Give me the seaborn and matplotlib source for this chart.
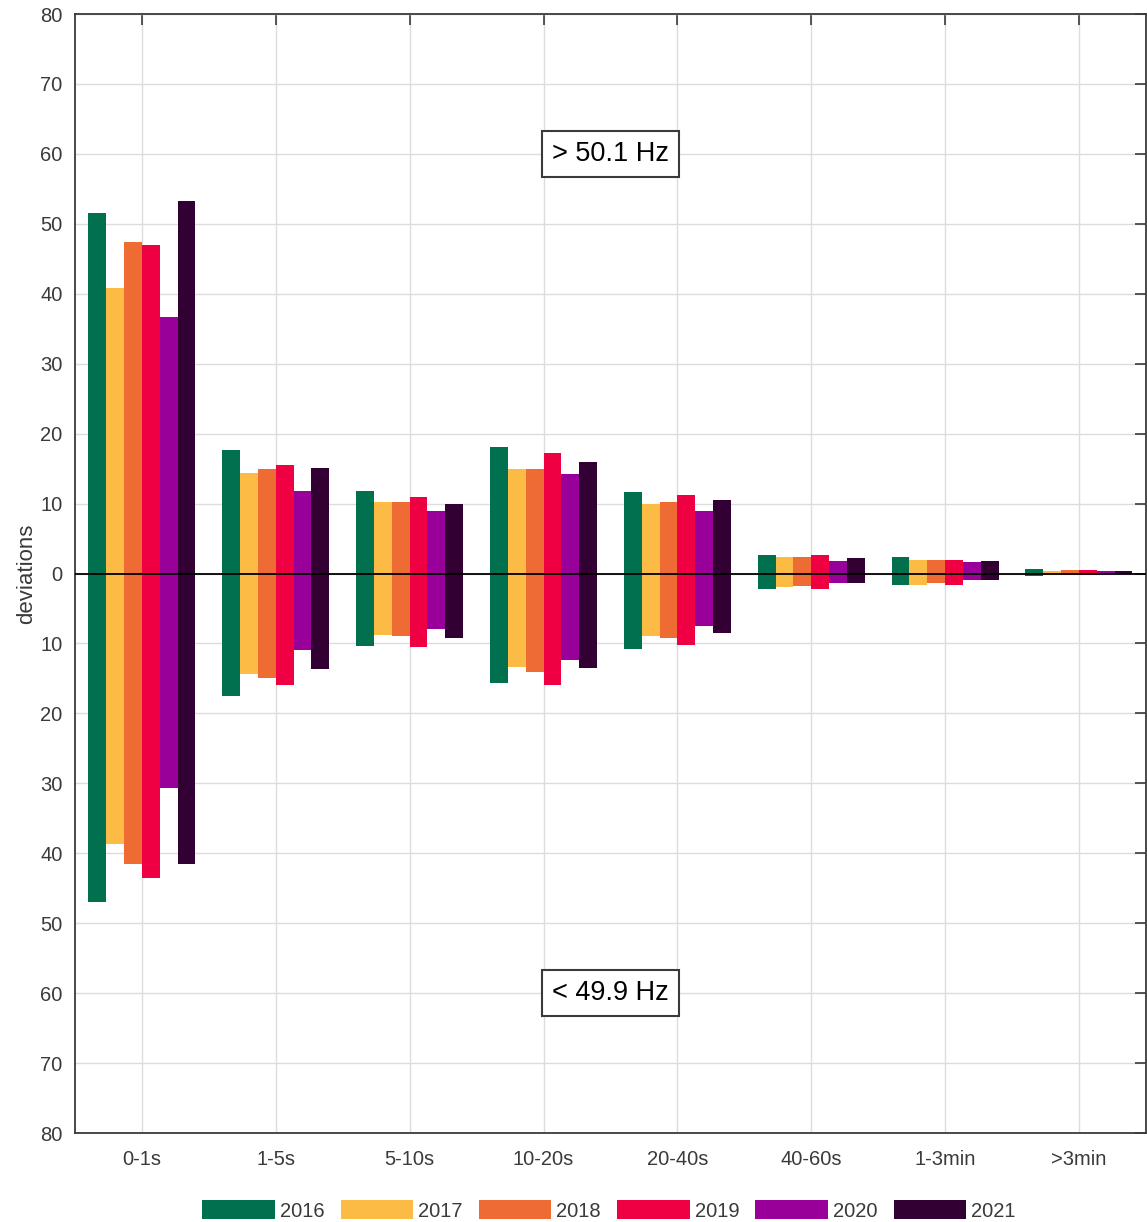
import matplotlib
matplotlib.use("Agg")
import matplotlib.pyplot as plt
import numpy as np
import pandas as pd
import seaborn as sns

# Intervalos de duracao e anos
categories = ['0-1s', '1-5s', '5-10s', '10-20s', '20-40s', '40-60s', '1-3min', '>3min']
years = ['2016', '2017', '2018', '2019', '2020', '2021']
colors = ['#00704F', '#FBBB45', '#EE6B34', '#EE0043', '#990099', '#330033']

# Desvios acima de 50.1 Hz (um valor por categoria)
above_2016 = [51.5, 17.7, 11.8, 18.1, 11.7, 2.7, 2.4, 0.6]
above_2017 = [40.8, 14.4, 10.3, 15.0, 9.9, 2.4, 1.9, 0.4]
above_2018 = [47.4, 14.9, 10.3, 15.0, 10.2, 2.4, 1.9, 0.5]
above_2019 = [47.0, 15.5, 10.9, 17.3, 11.2, 2.7, 1.9, 0.5]
above_2020 = [36.7, 11.8, 9.0, 14.2, 9.0, 1.8, 1.6, 0.3]
above_2021 = [53.3, 15.1, 9.9, 16.0, 10.5, 2.2, 1.8, 0.3]

# Desvios abaixo de 49.9 Hz
below_2016 = [46.9, 17.5, 10.4, 15.6, 10.8, 2.2, 1.7, 0.3]
below_2017 = [38.7, 14.4, 8.8, 13.4, 9.0, 1.9, 1.7, 0.2]
below_2018 = [41.6, 15.0, 9.0, 14.1, 9.2, 1.8, 1.4, 0.2]
below_2019 = [43.6, 16.0, 10.5, 16.0, 10.2, 2.2, 1.7, 0.2]
below_2020 = [30.6, 11.0, 7.9, 12.3, 7.5, 1.3, 0.9, 0.1]
below_2021 = [41.6, 13.6, 9.2, 13.5, 8.5, 1.3, 0.9, 0.1]

yticks = [-80, -70, -60, -50, -40, -30, -20, -10, 0, 10, 20, 30, 40, 50, 60, 70, 80]
ytick_labels = ['80', '70', '60', '50', '40', '30', '20', '10', '0',
                '10', '20', '30', '40', '50', '60', '70', '80']

above = [above_2016, above_2017, above_2018, above_2019, above_2020, above_2021]
below = [below_2016, below_2017, below_2018, below_2019, below_2020, below_2021]

rows = []
for y, a, b in zip(years, above, below):
    for c, va, vb in zip(categories, a, b):
        rows.append({'cat': c, 'year': y, 'above': va, 'below': -vb})
df = pd.DataFrame(rows)

sns.set_style('white')
plt.rcParams['font.family'] = ['Liberation Sans', 'DejaVu Sans']
txt_color = '#3a3a3a'

fig = plt.figure(figsize=(11.47, 12.22), dpi=100)
ax = fig.add_axes([0.0654, 0.0728, 0.9336, 0.9157])

sns.barplot(data=df, x='cat', y='above', hue='year', order=categories, hue_order=years,
            palette=colors, saturation=1, width=0.8, gap=0, linewidth=0,
            errorbar=None, ax=ax, zorder=2)
sns.barplot(data=df, x='cat', y='below', hue='year', order=categories, hue_order=years,
            palette=colors, saturation=1, width=0.8, gap=0, linewidth=0,
            errorbar=None, ax=ax, legend=False, zorder=2)

ax.set_axisbelow(True)
ax.xaxis.grid(True, color='#dcdcdc', linewidth=1.0)
ax.yaxis.grid(True, color='#dcdcdc', linewidth=1.0)

ax.axhline(0, color='black', linewidth=1.3, zorder=3)

ax.set_xlim(-0.5, len(categories) - 0.5)
ax.set_ylim(-80, 80)
ax.set_yticks(yticks)
ax.set_yticklabels(ytick_labels)
ax.set_xlabel('')
ax.set_ylabel('deviations', fontsize=16, color=txt_color, labelpad=2)
ax.tick_params(axis='both', direction='in', length=8, width=1.2, colors=txt_color,
               labelsize=14.5, top=True, right=True, pad=9)
ax.tick_params(axis='x', pad=12)
for s in ax.spines.values():
    s.set_visible(True)
    s.set_color(txt_color)
    s.set_linewidth(1.3)

box = dict(boxstyle='square,pad=0.38', facecolor='white', edgecolor=txt_color, linewidth=1.5)
ax.text(3.5, 60, '> 50.1 Hz', ha='center', va='center', fontsize=19.5, color='black', bbox=box, zorder=4)
ax.text(3.5, -60, '< 49.9 Hz', ha='center', va='center', fontsize=19.5, color='black', bbox=box, zorder=4)

handles, labels = ax.get_legend_handles_labels()
ax.get_legend().remove()
fig.legend(handles, labels, loc='center', bbox_to_anchor=(609 / 1147, 0.0095), ncol=6,
           frameon=False, fontsize=14.5, handlelength=3.6, handleheight=1.1,
           handletextpad=0.25, columnspacing=0.8, borderpad=0, labelcolor=txt_color)

fig.savefig('out.png', dpi=100)
